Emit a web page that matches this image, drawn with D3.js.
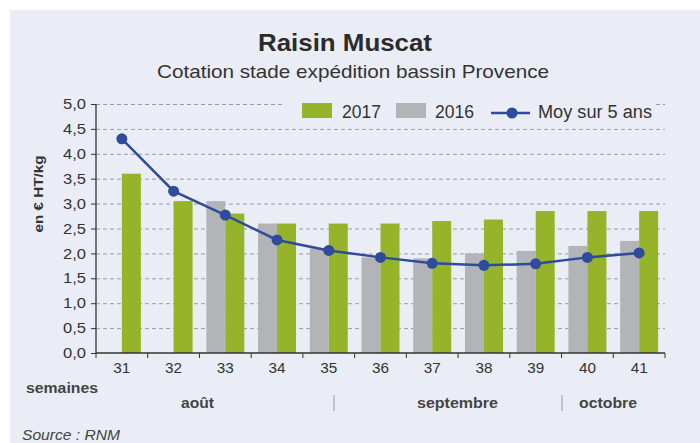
<!DOCTYPE html>
<html><head><meta charset="utf-8">
<script src="https://cdn.jsdelivr.net/npm/d3@7"></script>
<style>body{margin:0;background:#fff;}svg{display:block;font-family:"Liberation Sans",Arial,sans-serif;}</style>
</head><body>
<svg id="c" width="700" height="443"></svg>
<script>
const weeks = ["31","32","33","34","35","36","37","38","39","40","41"];
const v2017 = [3.6, 3.05, 2.8, 2.6, 2.6, 2.6, 2.65, 2.68, 2.85, 2.85, 2.85];
const v2016 = [null, null, 3.05, 2.6, 2.1, 1.92, 1.9, 2.0, 2.05, 2.15, 2.25];
const moy5 = [4.3, 3.25, 2.77, 2.27, 2.06, 1.92, 1.8, 1.76, 1.79, 1.92, 2.01];
const yTicks = [0,0.5,1,1.5,2,2.5,3,3.5,4,4.5,5];
const months = [{name:"août", x:197.5, w:33},{name:"septembre", x:457.5, w:81},{name:"octobre", x:608, w:58}];
const seps = [334, 562];

const cGreen = "#95b42a", cGray = "#b3b4b8", cBlue = "#2f4b9c", bg = "#eaedf5";
const svg = d3.select("#c");
svg.append("rect").attr("x",10).attr("y",10).attr("width",690).attr("height",433).attr("fill",bg);

const x = d3.scaleBand().domain(weeks).range([96,665]).paddingInner(0).paddingOuter(0);
const y = d3.scaleLinear().domain([0,5]).range([353,104]);
const bw = 19;

// gridlines
svg.append("g").selectAll("line").data(yTicks.filter(d=>d>0)).join("line")
  .attr("x1",96).attr("x2",665).attr("y1",d=>y(d)+0.5).attr("y2",d=>y(d)+0.5)
  .attr("stroke","#9a9ca3").attr("stroke-width",1).attr("stroke-dasharray","4,3");

// bars 2016
svg.append("g").selectAll("rect").data(weeks.map((w,i)=>({w,v:v2016[i]})).filter(d=>d.v!=null)).join("rect")
  .attr("x",d=>x(d.w)+x.bandwidth()/2-bw).attr("width",bw)
  .attr("y",d=>y(d.v)).attr("height",d=>y(0)-y(d.v)).attr("fill",cGray);
// bars 2017
svg.append("g").selectAll("rect").data(weeks.map((w,i)=>({w,v:v2017[i]}))).join("rect")
  .attr("x",d=>x(d.w)+x.bandwidth()/2).attr("width",bw)
  .attr("y",d=>y(d.v)).attr("height",d=>y(0)-y(d.v)).attr("fill",cGreen);

// line
const pts = weeks.map((w,i)=>({w,v:moy5[i]}));
svg.append("path").datum(pts).attr("fill","none").attr("stroke",cBlue).attr("stroke-width",2.5)
  .attr("d",d3.line().x(d=>x(d.w)+x.bandwidth()/2).y(d=>y(d.v)));
svg.append("g").selectAll("circle").data(pts).join("circle")
  .attr("cx",d=>x(d.w)+x.bandwidth()/2).attr("cy",d=>y(d.v)).attr("r",5.5).attr("fill",cBlue);

// axes
const yAxis = svg.append("g").attr("transform","translate(96,0)")
  .call(d3.axisLeft(y).tickValues(yTicks).tickSize(5).tickPadding(5).tickFormat(d=>d3.format(".1f")(d).replace(".",",")));
yAxis.select(".domain").attr("stroke","#333").attr("stroke-width",1.3).attr("d","M0,104V353");
yAxis.selectAll(".tick line").attr("stroke","#333");
yAxis.selectAll("text").attr("font-size",14.5).attr("fill","#333").attr("font-family","Liberation Sans, Arial, sans-serif")
  .attr("textLength",23).attr("lengthAdjust","spacingAndGlyphs");

const xAxis = svg.append("g").attr("transform","translate(0,353)")
  .call(d3.axisBottom(x).tickSize(0).tickPadding(9));
xAxis.select(".domain").attr("stroke","#333").attr("stroke-width",1.3).attr("d","M96,0H665");
xAxis.selectAll("text").attr("font-size",15).attr("fill","#333").attr("font-family","Liberation Sans, Arial, sans-serif")
  .attr("textLength",17).attr("lengthAdjust","spacingAndGlyphs");
const bounds = weeks.map(w=>x(w)).concat([x(weeks[weeks.length-1])+x.bandwidth()]);
svg.append("g").selectAll("line").data(bounds).join("line")
  .attr("x1",d=>d).attr("x2",d=>d).attr("y1",353).attr("y2",358).attr("stroke","#333");

function fit(sel, len){ return sel.attr("textLength",len).attr("lengthAdjust","spacingAndGlyphs"); }

// legend
const lg = svg.append("g");
lg.append("rect").attr("x",284).attr("y",96).attr("width",372).attr("height",28).attr("fill",bg);
lg.append("rect").attr("x",302).attr("y",103).attr("width",30).attr("height",15).attr("fill",cGreen);
fit(lg.append("text").attr("x",342).attr("y",118).text("2017"),39);
lg.append("rect").attr("x",396).attr("y",103).attr("width",30).attr("height",15).attr("fill",cGray);
fit(lg.append("text").attr("x",435).attr("y",118).text("2016"),39);
lg.append("line").attr("x1",491).attr("x2",530).attr("y1",113).attr("y2",113).attr("stroke",cBlue).attr("stroke-width",2.5);
lg.append("circle").attr("cx",512).attr("cy",113).attr("r",5.5).attr("fill",cBlue);
fit(lg.append("text").attr("x",538).attr("y",118).text("Moy sur 5 ans"),114);
lg.selectAll("text").attr("font-size",18).attr("fill","#333");

// titles
fit(svg.append("text").attr("x",258).attr("y",51).attr("font-size",24).attr("font-weight","bold").attr("fill","#2b2b2b").text("Raisin Muscat"),174);
fit(svg.append("text").attr("x",157).attr("y",78).attr("font-size",18.5).attr("fill","#333").text("Cotation stade expédition bassin Provence"),392);

// y label
fit(svg.append("text").attr("transform","translate(43,194) rotate(-90)").attr("text-anchor","middle")
  .attr("font-size",13).attr("font-weight","bold").attr("fill","#333").text("en € HT/kg"),77);

// bottom labels
fit(svg.append("text").attr("x",26).attr("y",393).attr("font-size",14).attr("font-weight","bold").attr("fill","#444").text("semaines"),72);
svg.append("g").selectAll("text").data(months).join("text")
  .attr("x",d=>d.x).attr("y",408).attr("text-anchor","middle").attr("font-size",14).attr("font-weight","bold").attr("fill","#444")
  .attr("textLength",d=>d.w).attr("lengthAdjust","spacingAndGlyphs").text(d=>d.name);
svg.append("g").selectAll("line").data(seps).join("line")
  .attr("x1",d=>d).attr("x2",d=>d).attr("y1",395).attr("y2",411).attr("stroke","#999").attr("stroke-width",1);
fit(svg.append("text").attr("x",22).attr("y",440).attr("font-size",14.5).attr("font-style","italic").attr("fill","#444").text("Source : RNM"),98);
</script>
</body></html>
